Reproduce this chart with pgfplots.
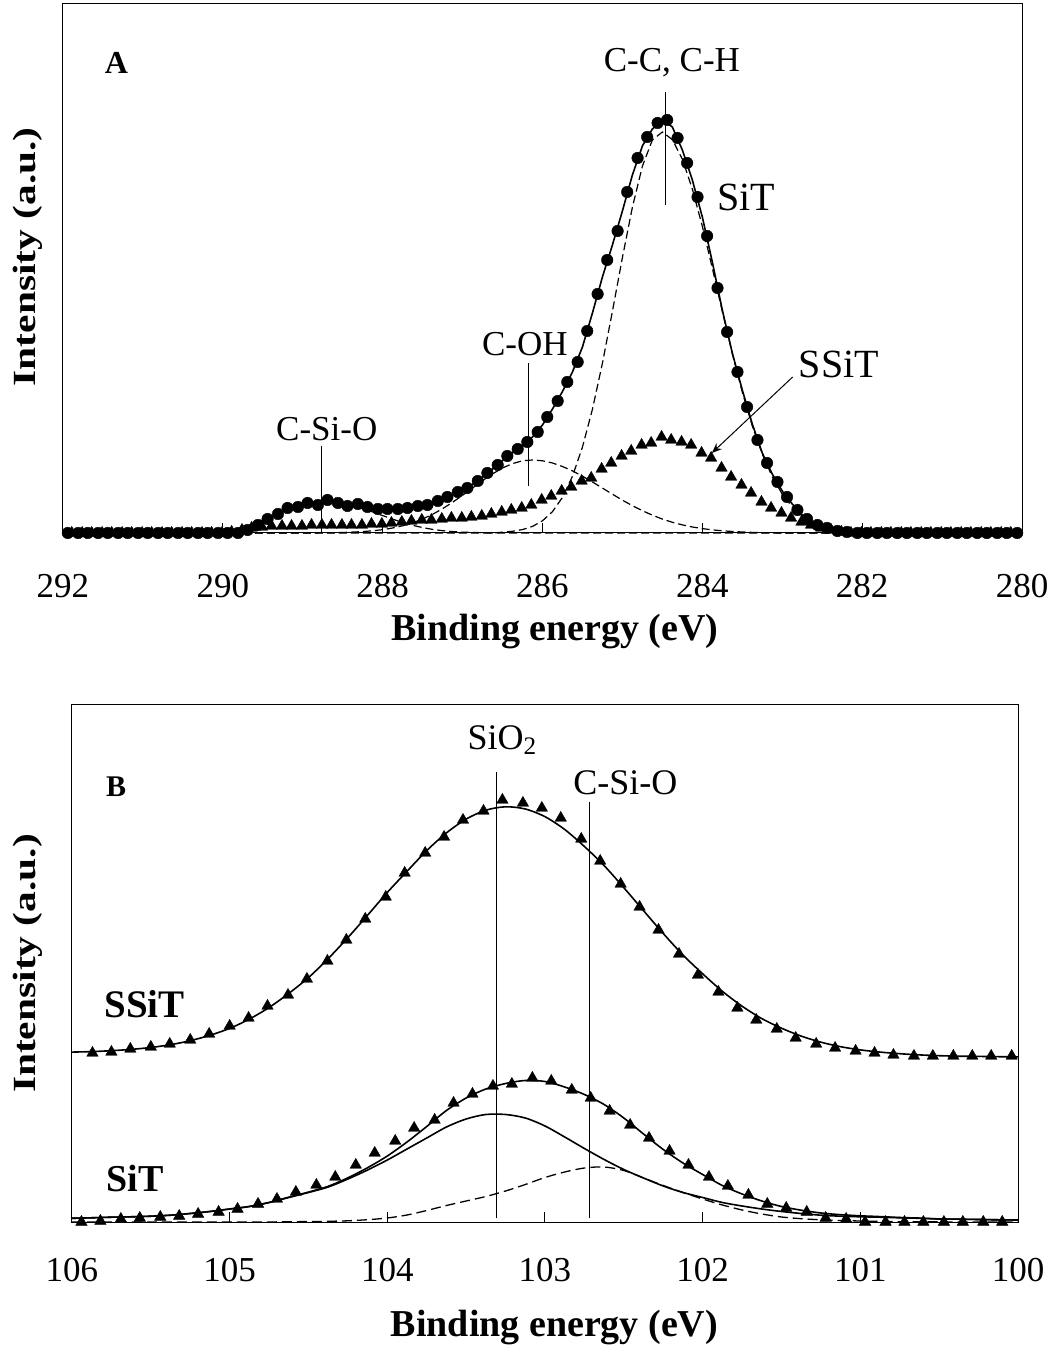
\documentclass[border=0pt]{standalone}
\usepackage{fontspec}
\setmainfont{Liberation Serif}
\usepackage{pgfplots}
\pgfplotsset{compat=1.18}
\usetikzlibrary{arrows.meta}
\pgfplotsset{
  xpsaxis/.style={
    scale only axis, clip=false, x dir=reverse,
    axis line style={line width=0.5pt},
    ytick=\empty, xtick pos=left, tick align=inside,
    major tick length=5pt,
    tick style={line width=0.5pt, black},
    /pgf/number format/assume math mode=true,
    ticklabel style={font=\fontsize{17.5}{20}\selectfont},
    label style={font=\bfseries\fontsize{19}{22}\selectfont},
  },
  fitline/.style={black, line width=0.8pt, no markers},
  compline/.style={black, line width=0.6pt, dash pattern=on 4pt off 2pt, no markers},
  circ/.style={only marks, mark=*, mark size=2.9pt, mark options={fill=black, draw=black, line width=0.2pt}},
  tri/.style={only marks, mark=triangle*, mark size=3.3pt, mark options={fill=black, draw=black, line width=0.2pt}},
}
\begin{document}
\begin{tikzpicture}
\path[use as bounding box] (0,0) rectangle (527pt,673.5pt);
% ---------------- Panel A ----------------
\begin{axis}[xpsaxis, at={(31.5pt,407pt)}, anchor=south west,
  width=479.5pt, height=264.5pt,
  xmin=280, xmax=292, ymin=0, ymax=529,
  xtick={280,282,...,292},
  xticklabel style={anchor=base, yshift=-32.5pt},
  xlabel={Binding energy (eV)},
  ylabel={\scalebox{1.09}[0.85]{Intensity (a.u.)}},
  xlabel style={at={(axis description cs:0.513,-0.2023)}, anchor=base},
  ylabel style={at={(axis description cs:-0.0365,0.522)}, anchor=center},
]
% C-C component
\addplot[compline] coordinates {(292,0) (286.625,0) (286.5,0.8) (286.375,1.7) (286.25,3.4) (286.125,6.6) (286,12.2) (285.875,21.3) (285.75,35.6) (285.625,56.7) (285.5,85.9) (285.375,123.7) (285.25,169.8) (285.125,221.7) (285,275.4) (284.875,325.8) (284.75,366.8) (284.625,393) (284.5,401) (284.375,393.3) (284.25,373.8) (284.125,344.1) (284,306.7) (283.875,264.9) (283.75,221.6) (283.625,179.5) (283.5,140.9) (283.375,107.1) (283.25,78.9) (283.125,56.2) (283,38.9) (282.875,26) (282.75,16.8) (282.625,10.6) (282.5,6.4) (282.375,3.8) (282.25,2.2) (282.125,1.2) (282,0.6) (281.875,0.3) (281.75,0) (280,0)};
% C-OH component
\addplot[compline] coordinates {(292,0) (288.875,0) (288.625,0.3) (288.5,0.5) (288.375,0.9) (288.25,1.4) (288.125,2.2) (288,3.3) (287.875,5.0) (287.75,7.2) (287.625,10.2) (287.5,14.0) (287.375,18.7) (287.25,24.3) (287.125,30.7) (287,37.7) (286.875,45.0) (286.75,52.3) (286.625,59.1) (286.5,65.0) (286.375,69.4) (286.25,72.2) (286.125,73) (286,72.2) (285.875,70.0) (285.75,66.5) (285.625,62.1) (285.5,56.8) (285.375,51.0) (285.25,44.9) (285.125,38.8) (285,32.8) (284.875,27.3) (284.75,22.3) (284.625,17.8) (284.5,13.9) (284.375,10.7) (284.25,8.1) (284.125,6.0) (284,4.4) (283.875,3.1) (283.75,2.2) (283.625,1.5) (283.5,1.0) (283.375,0.6) (283.25,0.3) (283,0) (280,0)};
% C-Si-O component
\addplot[compline] coordinates {(292,0) (290,0) (289.875,0.2) (289.75,1.2) (289.625,4.5) (289.5,10) (289.375,15.5) (289.25,21) (289.125,24.5) (289,27) (288.875,28.5) (288.75,29.5) (288.625,29.8) (288.5,29) (288.375,27.4) (288.25,24.5) (288.125,21) (288,17.4) (287.875,13.8) (287.75,10.5) (287.625,7.7) (287.5,5.4) (287.375,3.6) (287.25,2.3) (287.125,1.4) (287,0.8) (286.875,0.5) (286.75,0.3) (286.625,0) (280,0)};
% SiT envelope
\addplot[fitline] coordinates {(292,0) (290,0) (289.875,0.3) (289.75,1.5) (289.625,5) (289.5,11) (289.375,16.5) (289.25,22) (289.125,25.5) (289,28) (288.875,29.5) (288.75,30.5) (288.625,30.5) (288.5,29.5) (288.375,28) (288.25,27) (288.125,25.5) (288,24.5) (287.875,24) (287.75,24.5) (287.625,26) (287.5,27.5) (287.375,30) (287.25,34) (287.125,38.5) (287,43) (286.875,48.5) (286.75,56) (286.625,64) (286.5,72.5) (286.375,80.5) (286.25,87.5) (286.125,96) (286,108) (285.875,124) (285.75,141.5) (285.625,161) (285.5,186) (285.375,220) (285.25,256) (285.125,288) (285,322) (284.875,358) (284.75,387) (284.625,404) (284.5,413) (284.375,406) (284.25,383) (284.125,353) (284,316) (283.875,271) (283.75,223) (283.625,180) (283.5,143) (283.375,109) (283.25,80) (283.125,59) (283,42) (282.875,29) (282.75,18) (282.625,11) (282.5,6) (282.375,3) (282.25,1.5) (282.125,0.5) (282,0) (280,0)};
% SSiT data (triangles)
\addplot[tri] coordinates {(291.89,0) (291.76,0) (291.64,0) (291.51,0) (291.39,0) (291.26,0) (291.14,0) (291.01,0)
(290.89,0) (290.76,0) (290.64,0) (290.51,0) (290.39,0) (290.26,0) (290.14,0) (290.01,0)
(289.89,1) (289.76,3) (289.64,5) (289.51,6) (289.39,7) (289.26,7) (289.14,7) (289.01,7)
(288.89,8) (288.76,8) (288.64,8) (288.51,8) (288.39,8) (288.26,8) (288.14,9) (288.01,9)
(287.89,10) (287.76,11) (287.64,12) (287.51,13) (287.39,13) (287.26,14) (287.14,15) (287.01,15)
(286.89,16) (286.76,17) (286.64,19) (286.51,21) (286.39,23) (286.26,25) (286.14,28) (286.01,33)
(285.89,37) (285.76,42) (285.64,46) (285.51,52) (285.39,55) (285.26,64) (285.14,70) (285.01,77)
(284.89,82) (284.76,88) (284.64,90) (284.51,96) (284.39,93) (284.26,91) (284.14,88) (284.01,80)
(283.89,75) (283.76,65) (283.64,56) (283.51,48) (283.39,40) (283.26,31) (283.14,25) (283.01,20)
(282.89,15) (282.76,11) (282.64,8) (282.51,5) (282.39,3) (282.26,1) (282.14,0) (282.01,0)
(281.89,0) (281.76,0) (281.64,0) (281.51,0) (281.39,0) (281.26,0) (281.14,0) (281.01,0)
(280.89,0) (280.76,0) (280.64,0) (280.51,0) (280.39,0) (280.26,0) (280.14,0)};
% SiT data (circles)
\addplot[circ] coordinates {(291.94,0) (291.81,0) (291.69,0) (291.56,0) (291.44,0) (291.31,0) (291.19,0) (291.06,0)
(290.94,0) (290.81,0) (290.69,0) (290.56,0) (290.44,0) (290.31,0) (290.19,0) (290.06,0)
(289.94,0) (289.81,0) (289.69,3) (289.56,8) (289.44,14) (289.31,19) (289.19,25) (289.06,26)
(288.94,30) (288.81,28) (288.69,33) (288.56,30) (288.44,27) (288.31,29) (288.19,26) (288.06,24)
(287.94,24) (287.81,24) (287.69,25) (287.56,27) (287.44,28) (287.31,32) (287.19,36) (287.06,41)
(286.94,45) (286.81,52) (286.69,60) (286.56,68) (286.44,77) (286.31,84) (286.19,91) (286.06,101)
(285.94,116) (285.81,132) (285.69,151) (285.56,171) (285.44,202) (285.31,239) (285.19,273) (285.06,302)
(284.94,341) (284.81,375) (284.69,396) (284.56,410) (284.44,413) (284.31,395) (284.19,370) (284.06,336)
(283.94,297) (283.81,245) (283.69,201) (283.56,161) (283.44,126) (283.31,93) (283.19,70) (283.06,51)
(282.94,36) (282.81,23) (282.69,14) (282.56,8) (282.44,5) (282.31,2) (282.19,1) (282.06,0)
(281.94,0) (281.81,0) (281.69,0) (281.56,0) (281.44,0) (281.31,0) (281.19,0) (281.06,0)
(280.94,0) (280.81,0) (280.69,0) (280.56,0) (280.44,0) (280.31,0) (280.19,0) (280.06,0)};
% annotations
\draw[line width=0.5pt] (axis cs:284.455,441) -- (axis cs:284.455,328);
\draw[line width=0.5pt] (axis cs:286.17,170) -- (axis cs:286.17,47);
\draw[line width=0.5pt] (axis cs:288.76,87) -- (axis cs:288.76,0);
\draw[line width=0.5pt, -{Stealth[length=5pt,width=4pt]}] (axis cs:282.87,156) -- (axis cs:283.88,80);
\node[font=\bfseries\fontsize{16}{19}\selectfont] at (axis cs:291.33,470) {A};
\node[font=\fontsize{17.5}{20}\selectfont] at (axis cs:284.38,470) {C-C, C-H};
\node[font=\fontsize{20}{24}\selectfont] at (axis cs:283.45,336) {SiT};
\node[font=\fontsize{17.5}{20}\selectfont] at (axis cs:286.22,189) {C-OH};
\node[font=\fontsize{17.5}{20}\selectfont] at (axis cs:288.70,104) {C-Si-O};
\node[font=\fontsize{20}{24}\selectfont] at (axis cs:282.29,169) {SSiT};
\end{axis}
% ---------------- Panel B ----------------
\begin{axis}[xpsaxis, at={(36pt,62.5pt)}, anchor=south west,
  width=473pt, height=258.5pt,
  xmin=100, xmax=106, ymin=0, ymax=517,
  xtick={100,101,...,106},
  xticklabel style={anchor=base, yshift=-29.5pt},
  xlabel={Binding energy (eV)},
  ylabel={\scalebox{1.09}[0.85]{Intensity (a.u.)}},
  xlabel style={at={(axis description cs:0.51,-0.2224)}, anchor=base},
  ylabel style={at={(axis description cs:-0.0465,0.50)}, anchor=center},
  compline/.append style={dash pattern=on 5pt off 2.5pt, line width=0.65pt},
]
% C-Si-O component (dashed)
\addplot[compline, smooth] coordinates {(106,0) (105.875,0) (105.75,0) (105.625,0) (105.5,0) (105.375,0) (105.25,0) (105.125,0) (105,0) (104.875,0) (104.75,0) (104.625,0.3) (104.5,0.4) (104.375,0.7) (104.25,1.2) (104.125,2.3) (104,4) (103.875,7) (103.75,11.5) (103.625,16.5) (103.5,21) (103.375,25.5) (103.25,31) (103.125,37.5) (103,44.5) (102.875,50) (102.75,54) (102.625,55) (102.5,51.5) (102.375,44) (102.25,36.5) (102.125,29.5) (102,23) (101.875,17) (101.75,12) (101.625,8) (101.5,5) (101.375,3.3) (101.25,2.2) (101.125,1.5) (101,1.0) (100.875,0.6) (100.75,0.3) (100.625,0.2) (100.5,0.1) (100.375,0) (100.25,0) (100.125,0) (100,0)};
% SiO2 component (solid)
\addplot[fitline, smooth] coordinates {(106,3.7) (105.875,4.2) (105.75,4.8) (105.625,5.2) (105.5,5.8) (105.375,6.8) (105.25,8.5) (105.125,10.5) (105,13) (104.875,15.5) (104.75,19.5) (104.625,24.5) (104.5,29.5) (104.375,35) (104.25,43) (104.125,52) (104,62) (103.875,73) (103.75,84) (103.625,95) (103.5,103) (103.375,107.5) (103.25,107.5) (103.125,104) (103,96) (102.875,85) (102.75,73.5) (102.625,62.5) (102.5,52.5) (102.375,44) (102.25,36) (102.125,29.5) (102,24.5) (101.875,19.5) (101.75,16) (101.625,13) (101.5,10.5) (101.375,8.5) (101.25,6.8) (101.125,5.8) (101,5.2) (100.875,4.8) (100.75,4.2) (100.625,3.7) (100.5,3.0) (100.375,2.8) (100.25,2.5) (100.125,2.2) (100,2.0)};
% SiT envelope
\addplot[fitline, smooth] coordinates {(106,3.7) (105.875,4.2) (105.75,4.8) (105.625,5.2) (105.5,5.8) (105.375,6.8) (105.25,8.5) (105.125,10.5) (105,13) (104.875,15.5) (104.75,19.5) (104.625,24.8) (104.5,29.9) (104.375,35.7) (104.25,44.2) (104.125,54.3) (104,66) (103.875,80) (103.75,95.5) (103.625,111.5) (103.5,124) (103.375,133) (103.25,138.5) (103.125,141.5) (103,140.5) (102.875,135) (102.75,127.5) (102.625,117.5) (102.5,104) (102.375,88) (102.25,72.5) (102.125,59) (102,47.5) (101.875,36.5) (101.75,28) (101.625,21) (101.5,15.5) (101.375,11.8) (101.25,9.0) (101.125,7.3) (101,6.2) (100.875,5.4) (100.75,4.5) (100.625,3.9) (100.5,3.1) (100.375,2.8) (100.25,2.5) (100.125,2.2) (100,2.0)};
% SSiT fit
\addplot[fitline, smooth] coordinates {(106,169.9) (105.875,170.4) (105.75,171.3) (105.625,172.6) (105.5,174.5) (105.375,177.3) (105.25,181.3) (105.125,186.7) (105,193.6) (104.875,202.9) (104.75,214.5) (104.625,228.6) (104.5,244.4) (104.375,263.4) (104.25,284.4) (104.125,306.8) (104,329.6) (103.875,350.7) (103.75,371.4) (103.625,389.1) (103.5,402.9) (103.375,411.8) (103.25,415.2) (103.125,413) (103,405.3) (102.875,392.5) (102.75,375.5) (102.625,356.4) (102.5,334.3) (102.375,311.3) (102.25,288.5) (102.125,267) (102,248.2) (101.875,230.7) (101.75,215.8) (101.625,203.4) (101.5,193.8) (101.375,185.9) (101.25,179.8) (101.125,175.3) (101,172.1) (100.875,169.9) (100.75,168.3) (100.625,167.1) (100.5,166.3) (100.375,165.8) (100.25,165.6) (100.125,165.3) (100,165.1)};
% SSiT data
\addplot[tri] coordinates {(105.87,169) (105.75,170) (105.63,173) (105.50,175) (105.38,178) (105.25,182) (105.13,188) (105.00,196) (104.88,204) (104.76,216) (104.63,227) (104.51,243) (104.38,261) (104.26,282) (104.14,303) (104.01,325) (103.89,349) (103.76,369) (103.64,385) (103.52,402) (103.39,411) (103.27,422) (103.14,419) (103.02,414) (102.90,404) (102.77,383) (102.65,361) (102.52,338) (102.40,315) (102.28,292) (102.15,268) (102.03,247) (101.90,230) (101.78,214) (101.66,202) (101.53,193) (101.41,184) (101.28,178) (101.16,174) (101.03,171) (100.91,169) (100.79,167) (100.66,166) (100.54,166) (100.41,166) (100.29,166) (100.17,166) (100.04,166)};
% SiT data
\addplot[tri] coordinates {(105.94,0) (105.82,1) (105.69,3) (105.57,4) (105.44,5) (105.32,6) (105.20,8) (105.07,10) (104.95,13) (104.82,18) (104.70,23) (104.58,30) (104.45,37) (104.33,45) (104.20,57) (104.08,69) (103.95,81) (103.83,94) (103.70,102) (103.58,119) (103.46,128) (103.33,136) (103.21,138) (103.08,144) (102.96,141) (102.83,132) (102.71,124) (102.59,111) (102.46,97) (102.34,84) (102.21,71) (102.09,57) (101.96,45) (101.84,36) (101.71,27) (101.59,18) (101.47,14) (101.34,10) (101.22,4) (101.09,3) (100.97,0) (100.84,0) (100.72,0) (100.60,0) (100.47,0) (100.35,0) (100.22,0) (100.10,0)};
% annotations
\draw[line width=0.5pt] (axis cs:103.31,450) -- (axis cs:103.31,4);
\draw[line width=0.5pt] (axis cs:102.715,420) -- (axis cs:102.715,4);
\node[font=\bfseries\fontsize{15}{18}\selectfont] at (axis cs:105.72,435) {B};
\node[font=\fontsize{18}{21}\selectfont] at (axis cs:103.27,482) {SiO\textsubscript{2}};
\node[font=\fontsize{18}{21}\selectfont] at (axis cs:102.49,439) {C-Si-O};
\node[font=\bfseries\fontsize{19.5}{23}\selectfont] at (axis cs:105.54,218) {SSiT};
\node[font=\bfseries\fontsize{19}{23}\selectfont] at (axis cs:105.60,43) {SiT};
\end{axis}
\end{tikzpicture}
\end{document}
